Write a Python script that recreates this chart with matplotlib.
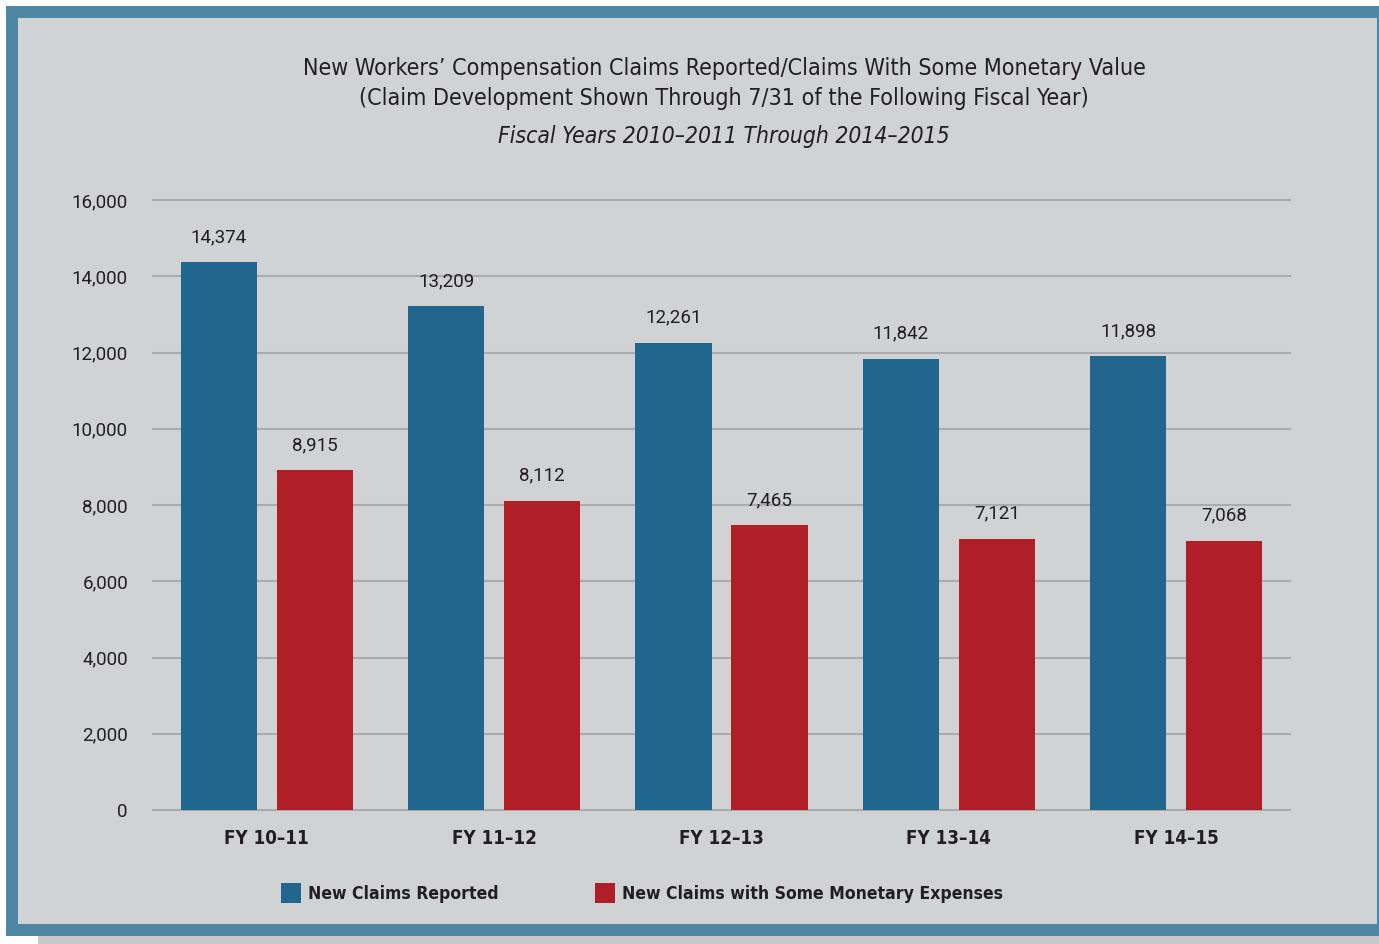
import matplotlib
matplotlib.use("Agg")
import matplotlib.pyplot as plt
from matplotlib.patches import Rectangle
import numpy as np

# Chart data
years = ['FY 10\u201311', 'FY 11\u201312', 'FY 12\u201313', 'FY 13\u201314', 'FY 14\u201315']
claims_reported = [14374, 13209, 12261, 11842, 11898]
claims_monetary = [8915, 8112, 7465, 7121, 7068]
y_ticks = [0, 2000, 4000, 6000, 8000, 10000, 12000, 14000, 16000]
series_names = ['New Claims Reported', 'New Claims with Some Monetary Expenses']

blue = '#21668c'
red = '#b01f27'
panel = '#d1d2d4'
border = '#4e86a4'
grid_col = '#aaabad'
text_col = '#231f20'

title_font = ['DejaVu Sans']
num_font = ['Roboto', 'DejaVu Sans']

W, H = 1379, 944
fig = plt.figure(figsize=(W / 100, H / 100), dpi=100, facecolor='white')

# frame: shadow, blue border, grey panel
fig.patches.append(Rectangle((38 / W, 0), 1, 8 / H, transform=fig.transFigure,
                             facecolor='#c8c8ca', edgecolor='none', zorder=-10))
fig.patches.append(Rectangle((6 / W, 8 / H), 1, (938 - 8) / H, transform=fig.transFigure,
                             facecolor=border, edgecolor='none', zorder=-10))
fig.patches.append(Rectangle((18 / W, 20 / H), (1377 - 18) / W, (926 - 20) / H,
                             transform=fig.transFigure,
                             facecolor=panel, edgecolor='none', zorder=-9))

ax = fig.add_axes([153 / W, 1 - 810 / H, (1290 - 153) / W, (810 - 200) / H])
ax.set_facecolor('none')
ax.set_zorder(2)

x = np.arange(len(years))
bw = 0.335
off = 0.211
ax.bar(x - off, claims_reported, width=bw, color=blue, zorder=3)
ax.bar(x + off, claims_monetary, width=bw, color=red, zorder=3)

for xi, v in zip(x, claims_reported):
    ax.text(xi - off, v + 420, f'{v:,}', ha='center', va='bottom', fontsize=13.5,
            family=num_font, color=text_col)
for xi, v in zip(x, claims_monetary):
    ax.text(xi + off, v + 420, f'{v:,}', ha='center', va='bottom', fontsize=13.5,
            family=num_font, color=text_col)

ax.set_xlim(-0.5, len(years) - 0.5)
ax.set_ylim(0, 16000)
ax.set_yticks(y_ticks)
ax.set_yticklabels([f'{t:,}' for t in y_ticks], family=num_font, fontsize=13.5, color=text_col)
ax.set_xticks(x)
ax.set_xticklabels(years, family=title_font, fontsize=13.5, fontweight='bold',
                   fontstretch='condensed', color=text_col)
ax.tick_params(axis='both', length=0)
ax.tick_params(axis='y', pad=18)
ax.tick_params(axis='x', pad=14)
ax.grid(axis='y', color=grid_col, linewidth=1.5, zorder=1)
for gl in ax.get_ygridlines():
    gl.set_clip_on(False)
for s in ax.spines.values():
    s.set_visible(False)

fig.text(724 / W, 1 - 69 / H, 'New Workers\u2019 Compensation Claims Reported/Claims With Some Monetary Value',
         ha='center', va='center', fontsize=16.7, family=title_font, fontstretch='condensed', color=text_col)
fig.text(724 / W, 1 - 99 / H, '(Claim Development Shown Through 7/31 of the Following Fiscal Year)',
         ha='center', va='center', fontsize=16.7, family=title_font, fontstretch='condensed', color=text_col)
fig.text(724 / W, 1 - 136 / H, 'Fiscal Years 2010\u20132011 Through 2014\u20132015',
         ha='center', va='center', fontsize=16.4, family=title_font, fontstretch='condensed',
         style='italic', color=text_col)

# legend, placed by hand
for px, col, name in zip([281, 595], [blue, red], series_names):
    fig.patches.append(Rectangle((px / W, 1 - 903 / H), 20 / W, 20 / H, transform=fig.transFigure,
                                 facecolor=col, edgecolor='none', zorder=1))
    fig.text((px + 27) / W, 1 - 894 / H, name, ha='left', va='center', fontsize=12.6,
             fontweight='bold', family=title_font, fontstretch='condensed', color=text_col)

fig.savefig('out.png', dpi=100, facecolor='white')
